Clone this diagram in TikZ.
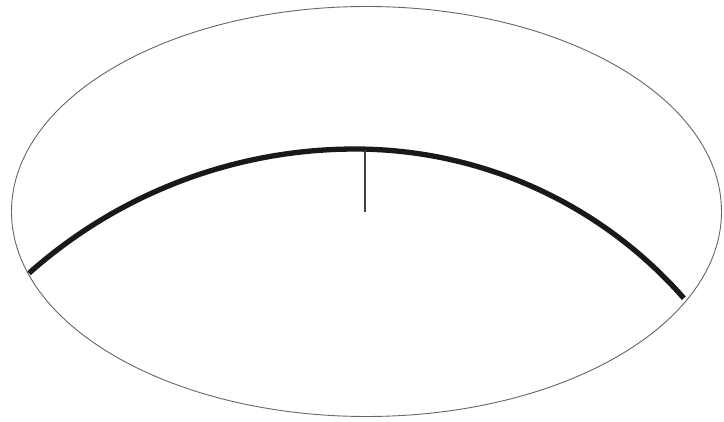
\documentclass[tikz,border=0pt]{standalone}
\begin{document}
\begin{tikzpicture}[x=1pt,y=-1pt,
  outline/.style={draw=black!60, line width=0.9pt},
  thickarc/.style={draw=black!90, line width=5.3pt, line join=round},
  tick/.style={draw=black!75, line width=1.1pt}]
\useasboundingbox (0,0) rectangle (724,422);
\draw[outline] (366.5,211.5) ellipse [x radius=355, y radius=205];
\draw[thickarc] plot[domain=228.3:270, samples=60] ({355+490*cos(\x)}, {639+490*sin(\x)})
  -- plot[domain=270:318.8, samples=60] ({355+437*cos(\x)}, {586+437*sin(\x)});
\coordinate (top) at (365,150);
\coordinate (bot) at (365,212);
\draw[tick] (top) -- (bot);
\end{tikzpicture}
\end{document}
